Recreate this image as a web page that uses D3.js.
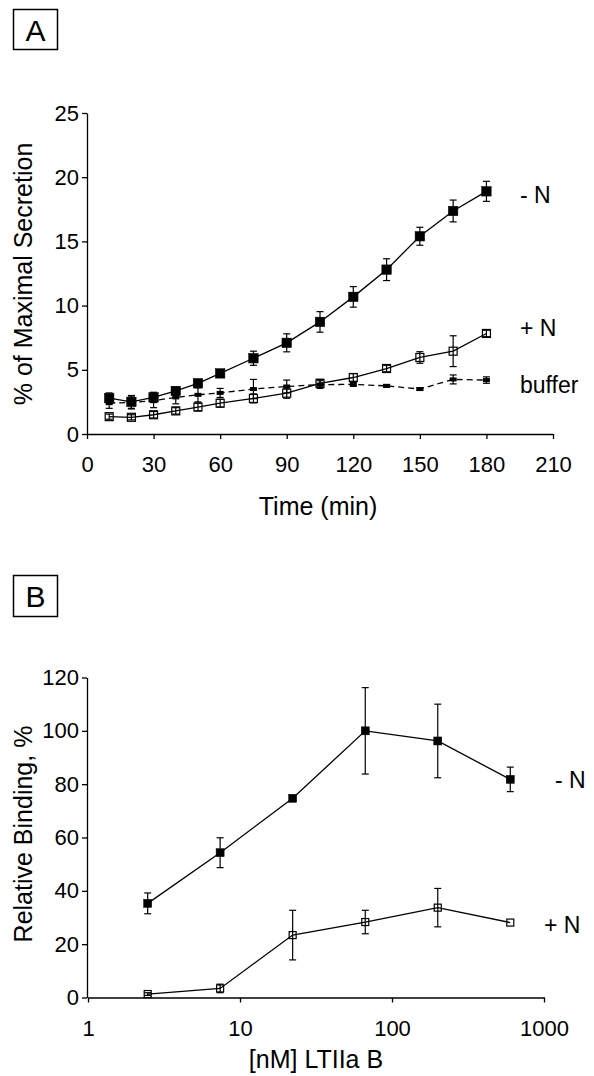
<!DOCTYPE html>
<html><head><meta charset="utf-8">
<script src="https://cdn.jsdelivr.net/npm/d3@7"></script>
<style>
html,body{margin:0;padding:0;background:#fff;}
text{font-family:"Liberation Sans",Arial,Helvetica,sans-serif;fill:#000;}
</style></head>
<body>
<svg id="chart" width="594" height="1076"></svg>
<script>
// ---------- Panel A data ----------
const timeA = [10,20,30,40,50,60,75,90,105,120,135,150,165,180];
const minusN_A = [2.8,2.5,2.85,3.35,3.95,4.72,5.9,7.1,8.73,10.68,12.8,15.4,17.37,18.9];
const minusN_A_err = [0.4,0.5,0.4,0.3,0.3,0.25,0.55,0.7,0.8,0.8,0.85,0.7,0.85,0.78];
const plusN_A = [1.35,1.3,1.5,1.8,2.1,2.4,2.77,3.18,3.95,4.4,5.1,5.96,6.45,7.83];
const plusN_A_err = [0.2,0.2,0.25,0.25,0.3,0.3,0.35,0.4,0.3,0.3,0.25,0.45,1.2,0.25];
const buffer_A = [2.4,2.45,2.6,2.85,3.05,3.2,3.5,3.7,3.85,3.86,3.75,3.5,4.25,4.2];
const buffer_A_err = [0.4,0.5,0.55,0.5,0.55,0.35,0.75,0.5,0.3,0.15,0.1,0.1,0.35,0.25];
const ticksA_x = [0,30,60,90,120,150,180,210];
const ticksA_y = [0,5,10,15,20,25];

// ---------- Panel B data ----------
const concB = [2.47,7.4,22.2,66.7,200,600];
const minusN_B = [35.3,54.3,74.7,100,96.2,81.8];
const minusN_B_err = [3.9,5.6,0,16.2,13.8,4.6];
const plusN_B = [1.3,3.4,23.4,28.3,33.7,28.1];
const plusN_B_err = [0.5,1.6,9.3,4.4,7.2,0];
const ticksB_x = [1,10,100,1000];
const ticksB_y = [0,20,40,60,80,100,120];

const svg = d3.select("#chart");
const FS = 22;   // tick labels
const FT = 25;   // axis titles
const FL = 23;   // series labels

function panelLabel(letter, x, y, w, h){
  svg.append("rect").attr("x",x).attr("y",y).attr("width",w).attr("height",h)
    .attr("fill","none").attr("stroke","#000").attr("stroke-width",1.5);
  svg.append("text").attr("x",x+w/2).attr("y",y+h/2+11).attr("text-anchor","middle")
    .attr("font-size",30).text(letter);
}
function styleAxis(g){
  g.selectAll("path,line").attr("stroke","#000").attr("stroke-width",1.3);
  g.selectAll("text").attr("font-size",FS).attr("fill","#000")
    .attr("font-family","Liberation Sans, Arial, sans-serif");
}
function errorBars(g, xs, ys, es, x, y, cap){
  const d = xs.map((v,i)=>({x:v,y:ys[i],e:es[i]})).filter(d=>d.e>0);
  const eg = g.append("g").attr("stroke","#000").attr("stroke-width",1.2);
  d.forEach(p=>{
    const cx = x(p.x);
    eg.append("line").attr("x1",cx).attr("x2",cx).attr("y1",y(p.y-p.e)).attr("y2",y(p.y+p.e));
    eg.append("line").attr("x1",cx-cap).attr("x2",cx+cap).attr("y1",y(p.y-p.e)).attr("y2",y(p.y-p.e));
    eg.append("line").attr("x1",cx-cap).attr("x2",cx+cap).attr("y1",y(p.y+p.e)).attr("y2",y(p.y+p.e));
  });
}
function series(g, xs, ys, x, y, dash){
  const line = d3.line().x((d,i)=>x(xs[i])).y(d=>y(d));
  g.append("path").attr("d", line(ys)).attr("fill","none").attr("stroke","#000")
   .attr("stroke-width",1.3).attr("stroke-dasharray", dash||null);
}
function squares(g, xs, ys, x, y, size, filled){
  g.append("g").selectAll("rect").data(ys).join("rect")
   .attr("x",(d,i)=>x(xs[i])-size/2).attr("y",d=>y(d)-size/2)
   .attr("width",size).attr("height",size)
   .attr("fill", filled?"#000":"none").attr("stroke","#000").attr("stroke-width",filled?0.5:1.2);
}

// ================= Panel A =================
panelLabel("A", 13.5, 9.5, 44, 40);
const xA = d3.scaleLinear().domain([0,210]).range([87,553]);
const yA = d3.scaleLinear().domain([0,25]).range([434,113]);
const gA = svg.append("g");
const axAx = gA.append("g").attr("transform","translate(0,434)")
  .call(d3.axisBottom(xA).tickValues(ticksA_x).tickSize(5).tickSizeOuter(0).tickPadding(17).tickFormat(d3.format("d")));
styleAxis(axAx);
const axAy = gA.append("g").attr("transform","translate(87,0)")
  .call(d3.axisLeft(yA).tickValues(ticksA_y).tickSize(5).tickSizeOuter(0).tickPadding(3).tickFormat(d3.format("d")));
styleAxis(axAy);

series(gA, timeA, buffer_A, xA, yA, "6,4");
errorBars(gA, timeA, buffer_A, buffer_A_err, xA, yA, 3.5);
gA.append("g").selectAll("rect").data(buffer_A).join("rect")
  .attr("x",(d,i)=>xA(timeA[i])-3.5).attr("y",d=>yA(d)-2).attr("width",7).attr("height",4).attr("fill","#000");

series(gA, timeA, plusN_A, xA, yA);
errorBars(gA, timeA, plusN_A, plusN_A_err, xA, yA, 3.5);
squares(gA, timeA, plusN_A, xA, yA, 8, false);

series(gA, timeA, minusN_A, xA, yA);
errorBars(gA, timeA, minusN_A, minusN_A_err, xA, yA, 3.5);
squares(gA, timeA, minusN_A, xA, yA, 9.5, true);

gA.append("text").attr("x",520).attr("y",203).attr("font-size",FL).text("- N");
gA.append("text").attr("x",520).attr("y",336).attr("font-size",FL).text("+ N");
gA.append("text").attr("x",520).attr("y",393).attr("font-size",FL).text("buffer");
gA.append("text").attr("x",318).attr("y",515).attr("text-anchor","middle").attr("font-size",FT).text("Time (min)");
gA.append("text").attr("transform","translate(32,274) rotate(-90)").attr("text-anchor","middle")
  .attr("font-size",FT).text("% of Maximal Secretion");

// ================= Panel B =================
panelLabel("B", 13.5, 575.5, 44, 41);
const xB = d3.scaleLog().domain([1,1000]).range([88,544]);
const yB = d3.scaleLinear().domain([0,120]).range([997.5,677.5]);
const gB = svg.append("g");
const axBx = gB.append("g").attr("transform","translate(0,997.5)")
  .call(d3.axisBottom(xB).tickValues(ticksB_x).tickSize(5).tickSizeOuter(0).tickPadding(18).tickFormat(d3.format("d")));
styleAxis(axBx);
const axBy = gB.append("g").attr("transform","translate(87,0)")
  .call(d3.axisLeft(yB).tickValues(ticksB_y).tickSize(5).tickSizeOuter(0).tickPadding(3).tickFormat(d3.format("d")));
styleAxis(axBy);

series(gB, concB, plusN_B, xB, yB);
errorBars(gB, concB, plusN_B, plusN_B_err, xB, yB, 3.5);
squares(gB, concB, plusN_B, xB, yB, 7, false);

series(gB, concB, minusN_B, xB, yB);
errorBars(gB, concB, minusN_B, minusN_B_err, xB, yB, 3.5);
squares(gB, concB, minusN_B, xB, yB, 8, true);

gB.append("text").attr("x",555).attr("y",788).attr("font-size",FL).text("- N");
gB.append("text").attr("x",544).attr("y",933).attr("font-size",FL).text("+ N");
gB.append("text").attr("x",316).attr("y",1068).attr("text-anchor","middle").attr("font-size",FT).text("[nM] LTIIa B");
gB.append("text").attr("transform","translate(32,834) rotate(-90)").attr("text-anchor","middle")
  .attr("font-size",FT).text("Relative Binding, %");
</script>
</body></html>
